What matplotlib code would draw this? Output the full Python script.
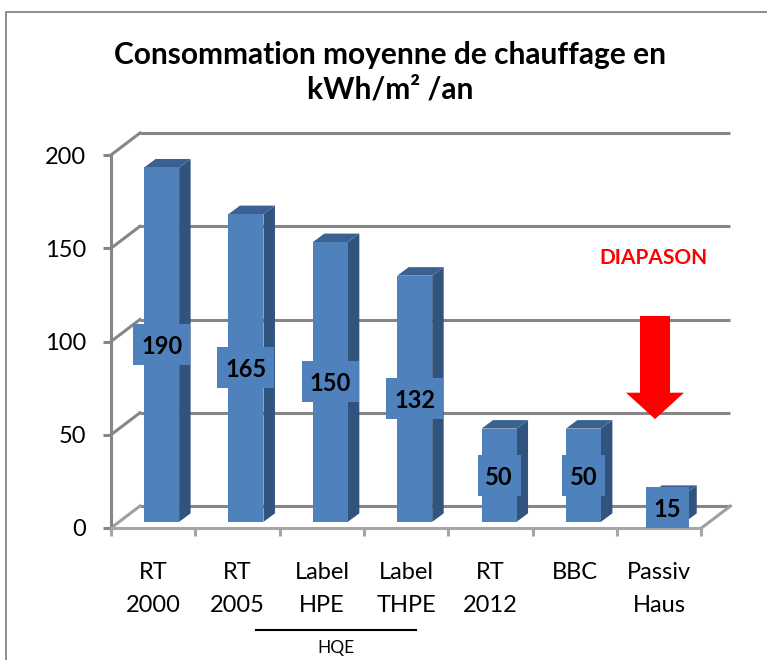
import matplotlib
matplotlib.use("Agg")
import matplotlib.pyplot as plt
from matplotlib.lines import Line2D

plt.rcParams['font.family'] = ['Lato', 'DejaVu Sans']

# chart data
categories = ['RT\n2000', 'RT\n2005', 'Label\nHPE', 'Label\nTHPE', 'RT\n2012', 'BBC', 'Passiv\nHaus']
values = [190, 165, 150, 132, 50, 50, 15]
y_ticks = [0, 50, 100, 150, 200]

W, H = 767, 660
FRONT = '#4F81BD'
SIDE = '#31547E'
TOP = '#3A6191'
GRID = '#868686'

fig = plt.figure(figsize=(W / 100, H / 100), dpi=100, facecolor='white')
ax = fig.add_axes([111 / W, 1 - 528 / H, 590.5 / W, 373 / H])
ax.set_xlim(0, 7)
ax.set_ylim(0, 200)
ax.patch.set_visible(False)

# pixels to data units, the fake 3d is all offsets
px_x = 7 / 590.5
px_y = 200 / 373
depth_x = 29 * px_x
depth_y = 22 * px_y
bar_dx = 11.5 * px_x
bar_dy = 8.5 * px_y
bar_w = 35 * px_x
base = 3.3

# back wall and floor
for v in y_ticks:
    ax.plot([depth_x, 7 + depth_x], [v + depth_y, v + depth_y], color=GRID, lw=2.2, clip_on=False, zorder=1, solid_capstyle='butt')
    ax.plot([0, depth_x], [v, v + depth_y], color=GRID if v else '#A0A0A0', lw=2.2, clip_on=False, zorder=1)
ax.plot([7, 7 + depth_x], [0, depth_y], color='#A0A0A0', lw=2.2, clip_on=False, zorder=1)

# axes
for s in ['top', 'right']:
    ax.spines[s].set_visible(False)
ax.spines['left'].set_color(GRID)
ax.spines['left'].set_linewidth(2.2)
ax.spines['bottom'].set_color('#A6A6A6')
ax.spines['bottom'].set_linewidth(2.2)
ax.set_yticks(y_ticks)
ax.set_xticks(range(8))
ax.set_xticklabels([])
ax.set_xticks([i + 0.5 for i in range(7)], categories, minor=True)
ax.tick_params(axis='y', length=6, width=2.2, color=GRID, pad=12, labelsize=17)
ax.tick_params(axis='x', which='major', length=6, width=2.2, color='#A6A6A6')
ax.tick_params(axis='x', which='minor', length=0, pad=24.5, labelsize=17)
for t in ax.get_xticklabels(minor=True):
    t.set_linespacing(1.7)

# bars
for i, v in enumerate(values):
    x = i + 0.6
    l = x - bar_w / 2
    r = x + bar_w / 2
    ax.fill([r, r + bar_dx, r + bar_dx, r], [base, base + bar_dy, base + v + bar_dy, base + v], color=SIDE, lw=0, zorder=3)
    ax.fill([l, l + bar_dx, r + bar_dx, r], [base + v, base + v + bar_dy, base + v + bar_dy, base + v], color=TOP, lw=0, zorder=3)
    ax.bar(x, v, bar_w, bottom=base, color=FRONT, lw=0, zorder=4)

# value labels sit on a blue box
for i, v in enumerate(values):
    x = i + 0.6
    box_w = (57 if v >= 100 else 43) * px_x
    box_h = 41 * px_y
    ax.bar(x, box_h, box_w, bottom=base + v / 2 - box_h / 2, color=FRONT, lw=0, zorder=5, clip_on=False)
    ax.text(x, base + v / 2, str(v), ha='center', va='center_baseline', fontsize=17, fontweight='bold', color='black', zorder=6)

# red arrow + text
ax.annotate('', xy=(6.449, 58.4), xytext=(6.449, 113.7),
            arrowprops=dict(facecolor='#FF0000', edgecolor='none', width=21.6, headwidth=41.8, headlength=19, shrink=0), zorder=7)
ax.text(6.425, 144.6, 'DIAPASON', ha='center', va='center', color='#FF0000', fontsize=15, fontweight='bold')

# title and the rest
fig.text(390 / W, 1 - 72 / H, 'Consommation moyenne de chauffage en\nkWh/m² /an', ha='center', va='center',
         fontsize=21.5, fontweight='bold', linespacing=1.3)
fig.add_artist(Line2D([256 / W, 416 / W], [1 - 630 / H, 1 - 630 / H], color='black', lw=1.5))
fig.text(336 / W, 1 - 647.5 / H, 'HQE', ha='center', va='center', fontsize=12.5)

# outer frame, only top and left are in the crop
fig.add_artist(Line2D([6 / W, 6 / W, 1], [0, 1 - 11.5 / H, 1 - 11.5 / H], color='#8C8C8C', lw=1.4))

fig.savefig('out.png', dpi=100)
